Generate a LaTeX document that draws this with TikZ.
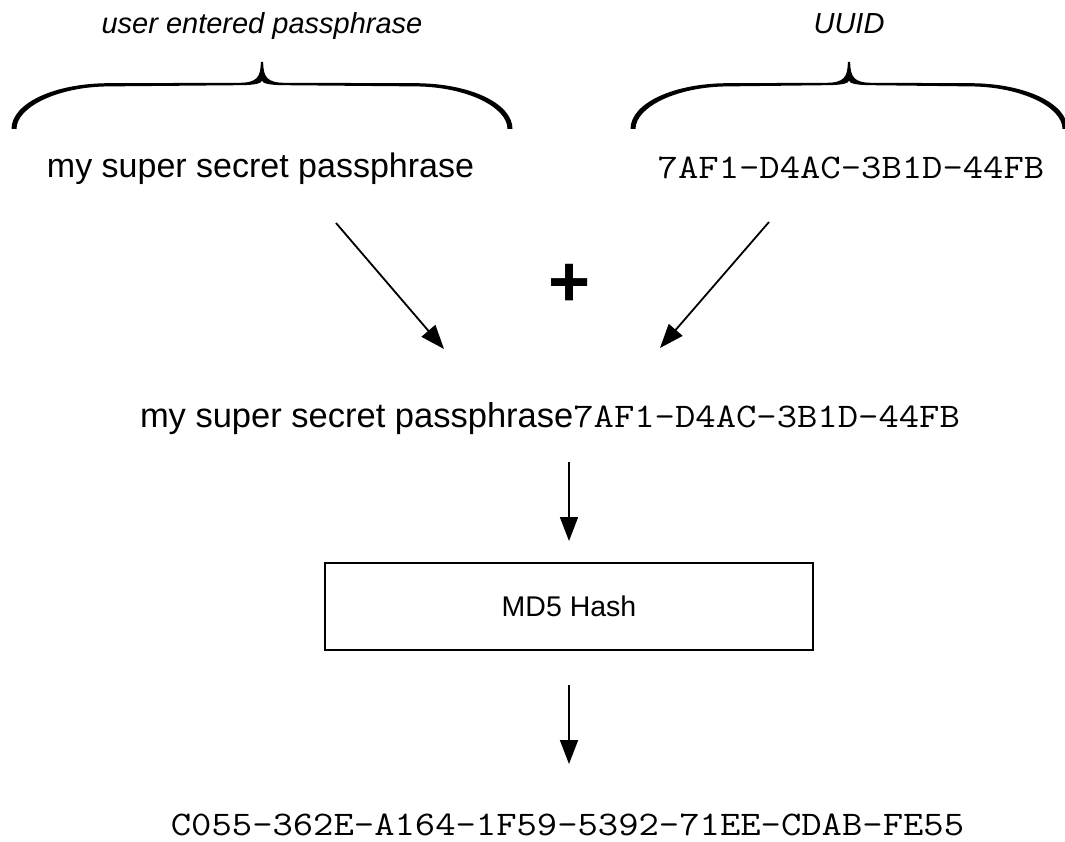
\documentclass[tikz,border=0pt]{standalone}
\usepackage{fontspec}
\setmainfont{Liberation Sans}
\newfontfamily\codefont{Latin Modern Mono}[FakeStretch=1.145]
\usetikzlibrary{arrows.meta}

% Curly brace opening downwards: centre x, tip y, half width
\newcommand{\drawbrace}[3]{%
  \pgfmathsetmacro\bA{#3-95}%
  \pgfmathsetmacro\bB{#3-41}%
  \pgfmathsetmacro\bC{#3-44}%
  \pgfmathsetmacro\bo{#3+2.5}%
  \pgfmathsetmacro\bi{#3-2.5}%
  \begin{scope}[shift={(#1,#2)}]
    \fill[black] (-1.2,0) -- (1.2,0)
      .. controls (1.2,15) and (5,20.8) .. (23,20.8)
      -- (\bA,21.2)
      .. controls (\bB,21.2) and (\bo,41) .. (\bo,67)
      -- (\bi,67)
      .. controls (\bi,45) and (\bC,24.6) .. (\bA,24.4)
      -- (23,23.2)
      .. controls (6,23.2) and (0,21) .. (0,18.5)
      .. controls (0,21) and (-6,23.2) .. (-23,23.2)
      -- (-\bA,24.4)
      .. controls (-\bC,24.6) and (-\bi,45) .. (-\bi,67)
      -- (-\bo,67)
      .. controls (-\bo,41) and (-\bB,21.2) .. (-\bA,21.2)
      -- (-23,20.8)
      .. controls (-5,20.8) and (-1.2,15) .. (-1.2,0) -- cycle;
  \end{scope}}

\tikzset{
  flow/.style={line width=1.8pt, -{Triangle[length=24pt,width=18pt]}},
  plain/.style={inner sep=0pt, outer sep=0pt},
  bigtext/.style={plain, font=\fontsize{34}{40}\selectfont},
  codetext/.style={plain, font=\codefont\fontsize{34.5}{40}\selectfont},
  caption/.style={plain, font=\itshape\fontsize{29}{34}\selectfont},
  plussign/.style={plain, font=\bfseries\fontsize{72}{72}\selectfont},
  hashbox/.style={draw, line width=2pt, inner sep=0pt, minimum width=488pt,
    minimum height=87pt, font=\fontsize{28.5}{34}\selectfont},
}

\begin{document}
\begin{tikzpicture}[x=1pt, y=-1pt]
  \fill[white] (0,0) rectangle (1065,842);
  \useasboundingbox (0,0) rectangle (1065,842);

  % captions and braces
  \node[caption, anchor=base] (lblpp) at (262,34) {user entered passphrase};
  \node[caption, anchor=base] (lbluuid) at (849,34) {UUID};
  \drawbrace{262}{62}{248}
  \drawbrace{849}{62}{216}

  % the two inputs
  \node[bigtext, anchor=base] (pp) at (260.5,178) {my super secret passphrase};
  \node[codetext, anchor=base] (uuid) at (851,179) {7AF1-D4AC-3B1D-44FB};

  \node[plussign] (plus) at (570,285) {+};

  % concatenated string
  \node[font=\fontsize{34.5}{40}\selectfont, plain, anchor=base west] (joined) at (140,427)
    {my super secret passphrase{\codefont 7AF1-D4AC-3B1D-44FB}};

  % hashing step
  \node[hashbox] (md5) at (569,606.5) {MD5 Hash};

  % resulting digest
  \node[codetext, anchor=base] (digest) at (567.5,835)
    {C055-362E-A164-1F59-5392-71EE-CDAB-FE55};

  % connectors
  \coordinate (l1) at (336,223);
  \coordinate (l2) at (444,349);
  \coordinate (r1) at (769,222);
  \coordinate (r2) at (660,348);
  \coordinate (d1) at (569,462);
  \coordinate (d2) at (569,541);
  \coordinate (e1) at (569,685);
  \coordinate (e2) at (569,764);

  \draw[flow] (l1) -- (l2);
  \draw[flow] (r1) -- (r2);
  \draw[flow] (d1) -- (d2);
  \draw[flow] (e1) -- (e2);
\end{tikzpicture}
\end{document}
